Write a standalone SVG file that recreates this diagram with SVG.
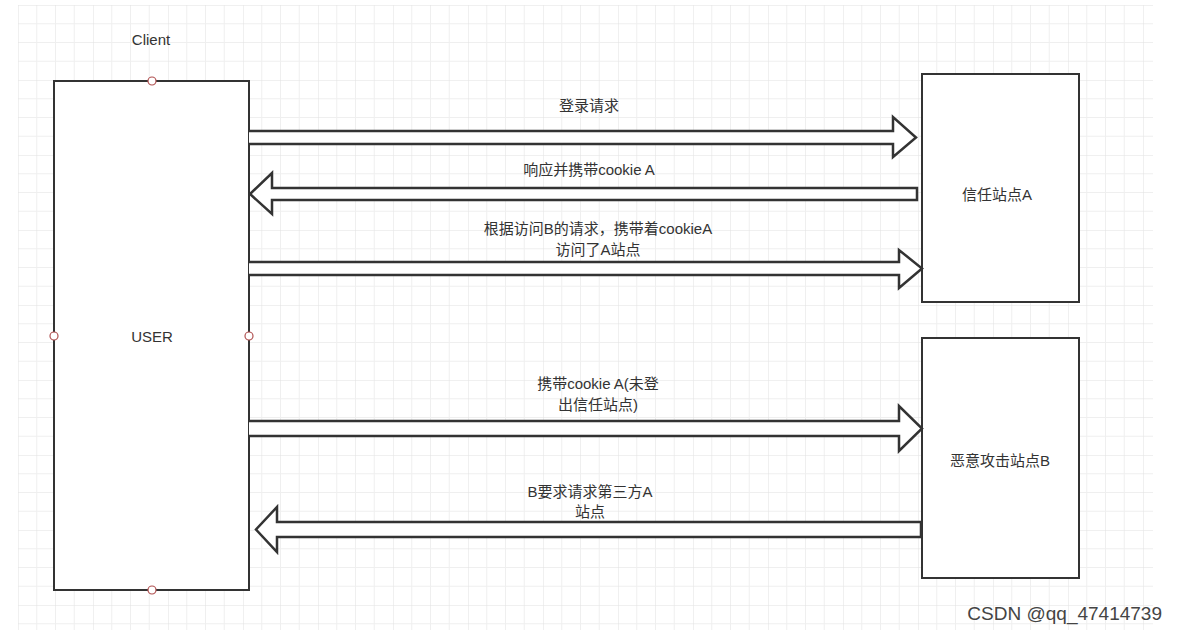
<svg xmlns="http://www.w3.org/2000/svg" width="1178" height="636" viewBox="0 0 1178 636">
<defs>
<pattern id="g" x="18" y="5" width="75" height="75" patternUnits="userSpaceOnUse">
<path d="M18.75 0V75M37.5 0V75M56.25 0V75M0 18.75H75M0 37.5H75M0 56.25H75" stroke="#efefef" stroke-width="1" fill="none"/>
<path d="M0 0V75M0 0H75" stroke="#e2e2e2" stroke-width="1" fill="none"/>
</pattern>
</defs>
<style>
.box{fill:#fff;stroke:#333;stroke-width:2}
.arr{fill:#fff;stroke:#333;stroke-width:2.5;stroke-linejoin:miter}
.t{font-family:"Liberation Sans","Noto Sans CJK SC",sans-serif;font-size:15px;fill:#333;text-anchor:middle}
.pt{fill:#fff;stroke:#b05050;stroke-width:1.2}
</style>
<rect width="1178" height="636" fill="#fff"/>
<rect x="18" y="5" width="1135" height="625" fill="url(#g)"/>
<g id="client-label"><text class="t" x="151" y="45">Client</text></g>
<g id="user">
<rect class="box" x="54" y="81" width="195" height="509"/>
<text class="t" x="152" y="342">USER</text>
<circle class="pt" cx="152" cy="81" r="4"/><circle class="pt" cx="152" cy="590" r="4"/>
<circle class="pt" cx="54" cy="336" r="4"/><circle class="pt" cx="249" cy="336" r="4"/>
</g>
<g id="siteA"><rect class="box" x="922" y="74" width="157" height="228"/><text class="t" x="997" y="200">信任站点A</text></g>
<g id="siteB"><rect class="box" x="922" y="338" width="157" height="240"/><text class="t" x="1000" y="466">恶意攻击站点B</text></g>
<g id="connectors">
<path class="arr" d="M249 131H893V117L916 137.5L893 157V144H249"/>
<path class="arr" d="M917 188H272V173L250 194L272 214V200H917Z"/>
<path class="arr" d="M249 262H899V250L922 268.5L899 288V275H249"/>
<path class="arr" d="M249 421H899V406L922 428.5L899 451V436H249"/>
<path class="arr" d="M921 522H277V507L256 529.5L277 552V537H921Z"/>
</g>
<g id="labels">
<text class="t" x="589" y="111">登录请求</text>
<text class="t" x="589" y="175">响应并携带cookie A</text>
<text class="t" x="598" y="234">根据访问B的请求，携带着cookieA</text>
<text class="t" x="598" y="255">访问了A站点</text>
<text class="t" x="598" y="389">携带cookie A(未登</text>
<text class="t" x="598" y="410">出信任站点)</text>
<text class="t" x="590" y="497">B要求请求第三方A</text>
<text class="t" x="590" y="517">站点</text>
</g>
<text x="1162" y="620" style="font-family:'Liberation Sans',sans-serif;font-size:19px;fill:#444;text-anchor:end">CSDN @qq_47414739</text>
</svg>
